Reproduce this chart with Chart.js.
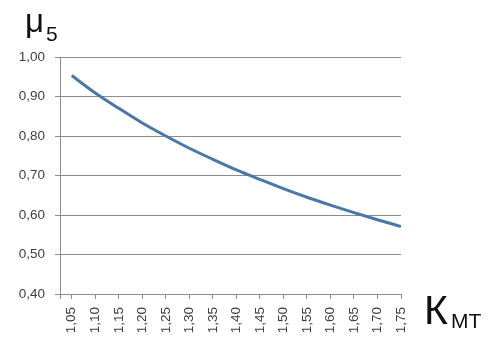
<!DOCTYPE html>
<html>
<head>
<meta charset="utf-8">
<script src="https://cdn.jsdelivr.net/npm/chart.js@4/dist/chart.umd.min.js"></script>
<style>
html,body{margin:0;padding:0;background:#fff;}
#wrap{width:489px;height:356px;position:relative;}
</style>
</head>
<body>
<div id="wrap"><canvas id="c" width="489" height="356"></canvas></div>
<script>
const categories = [1.05,1.10,1.15,1.20,1.25,1.30,1.35,1.40,1.45,1.50,1.55,1.60,1.65,1.70,1.75];
const mu5 = [0.953,0.909,0.870,0.833,0.800,0.769,0.741,0.714,0.690,0.667,0.645,0.625,0.606,0.588,0.571];
const yTicks = [0.40,0.50,0.60,0.70,0.80,0.90,1.00];
const yTitle = "μ";
const yTitleSub = "5";
const xTitle = "К";
const xTitleSub = "МТ";

const fmt = v => v.toFixed(2).replace('.', ',');
const FONT = "'Liberation Sans', Arial, sans-serif";

const labelsPlugin = {
  id: 'labelsPlugin',
  afterDraw(chart) {
    const ctx = chart.ctx;
    const xs = chart.scales.x;
    const ys = chart.scales.y;
    ctx.save();
    ctx.fillStyle = '#404040';
    ctx.font = "13.5px " + FONT;
    categories.forEach(v => {
      const px = xs.getPixelForValue(v);
      ctx.save();
      ctx.translate(px, ys.bottom + 13);
      ctx.rotate(-Math.PI / 2);
      ctx.textAlign = 'right';
      ctx.textBaseline = 'middle';
      ctx.fillText(fmt(v), 0, 0);
      ctx.restore();
    });
    // axis titles
    ctx.fillStyle = '#111111';
    ctx.textAlign = 'left';
    ctx.textBaseline = 'alphabetic';
    ctx.font = "33px " + FONT;
    ctx.fillText(yTitle, 25, 32);
    ctx.font = "21px " + FONT;
    ctx.fillText(yTitleSub, 46, 41);
    ctx.font = "41px " + FONT;
    ctx.fillText(xTitle, 424, 324);
    ctx.font = "21px " + FONT;
    ctx.fillText(xTitleSub, 451, 328);
    ctx.restore();
  }
};

new Chart(document.getElementById('c'), {
  type: 'line',
  data: {
    datasets: [{
      data: categories.map((c, i) => ({x: c, y: mu5[i]})),
      borderColor: '#4a77a8',
      borderWidth: 3,
      pointRadius: 0,
      tension: 0.4,
      cubicInterpolationMode: 'monotone',
      fill: false
    }]
  },
  options: {
    responsive: false,
    animation: false,
    devicePixelRatio: 1,
    layout: {padding: {left: 0, top: 57, right: 88, bottom: 0}},
    plugins: {legend: {display: false}, tooltip: {enabled: false}},
    scales: {
      x: {
        type: 'linear',
        min: 1.025,
        max: 1.75,
        afterBuildTicks: s => { s.ticks = [{value: 1.025}].concat(categories.map(v => ({value: v}))); },
        afterFit: s => { s.height = 62; },
        ticks: {display: false},
        grid: {drawOnChartArea: false, drawTicks: true, tickLength: 5, color: '#8c8c8c', lineWidth: 1},
        border: {display: true, color: '#8c8c8c', width: 1}
      },
      y: {
        min: 0.40,
        max: 1.00,
        afterBuildTicks: s => { s.ticks = yTicks.map(v => ({value: v})); },
        afterFit: s => { s.width = 60; },
        ticks: {
          callback: v => fmt(v),
          color: '#404040',
          font: {family: FONT, size: 13.5},
          padding: 10
        },
        grid: {color: '#8c8c8c', lineWidth: 1, tickLength: 5},
        border: {display: true, color: '#8c8c8c', width: 1}
      }
    }
  },
  plugins: [labelsPlugin]
});
</script>
</body>
</html>
